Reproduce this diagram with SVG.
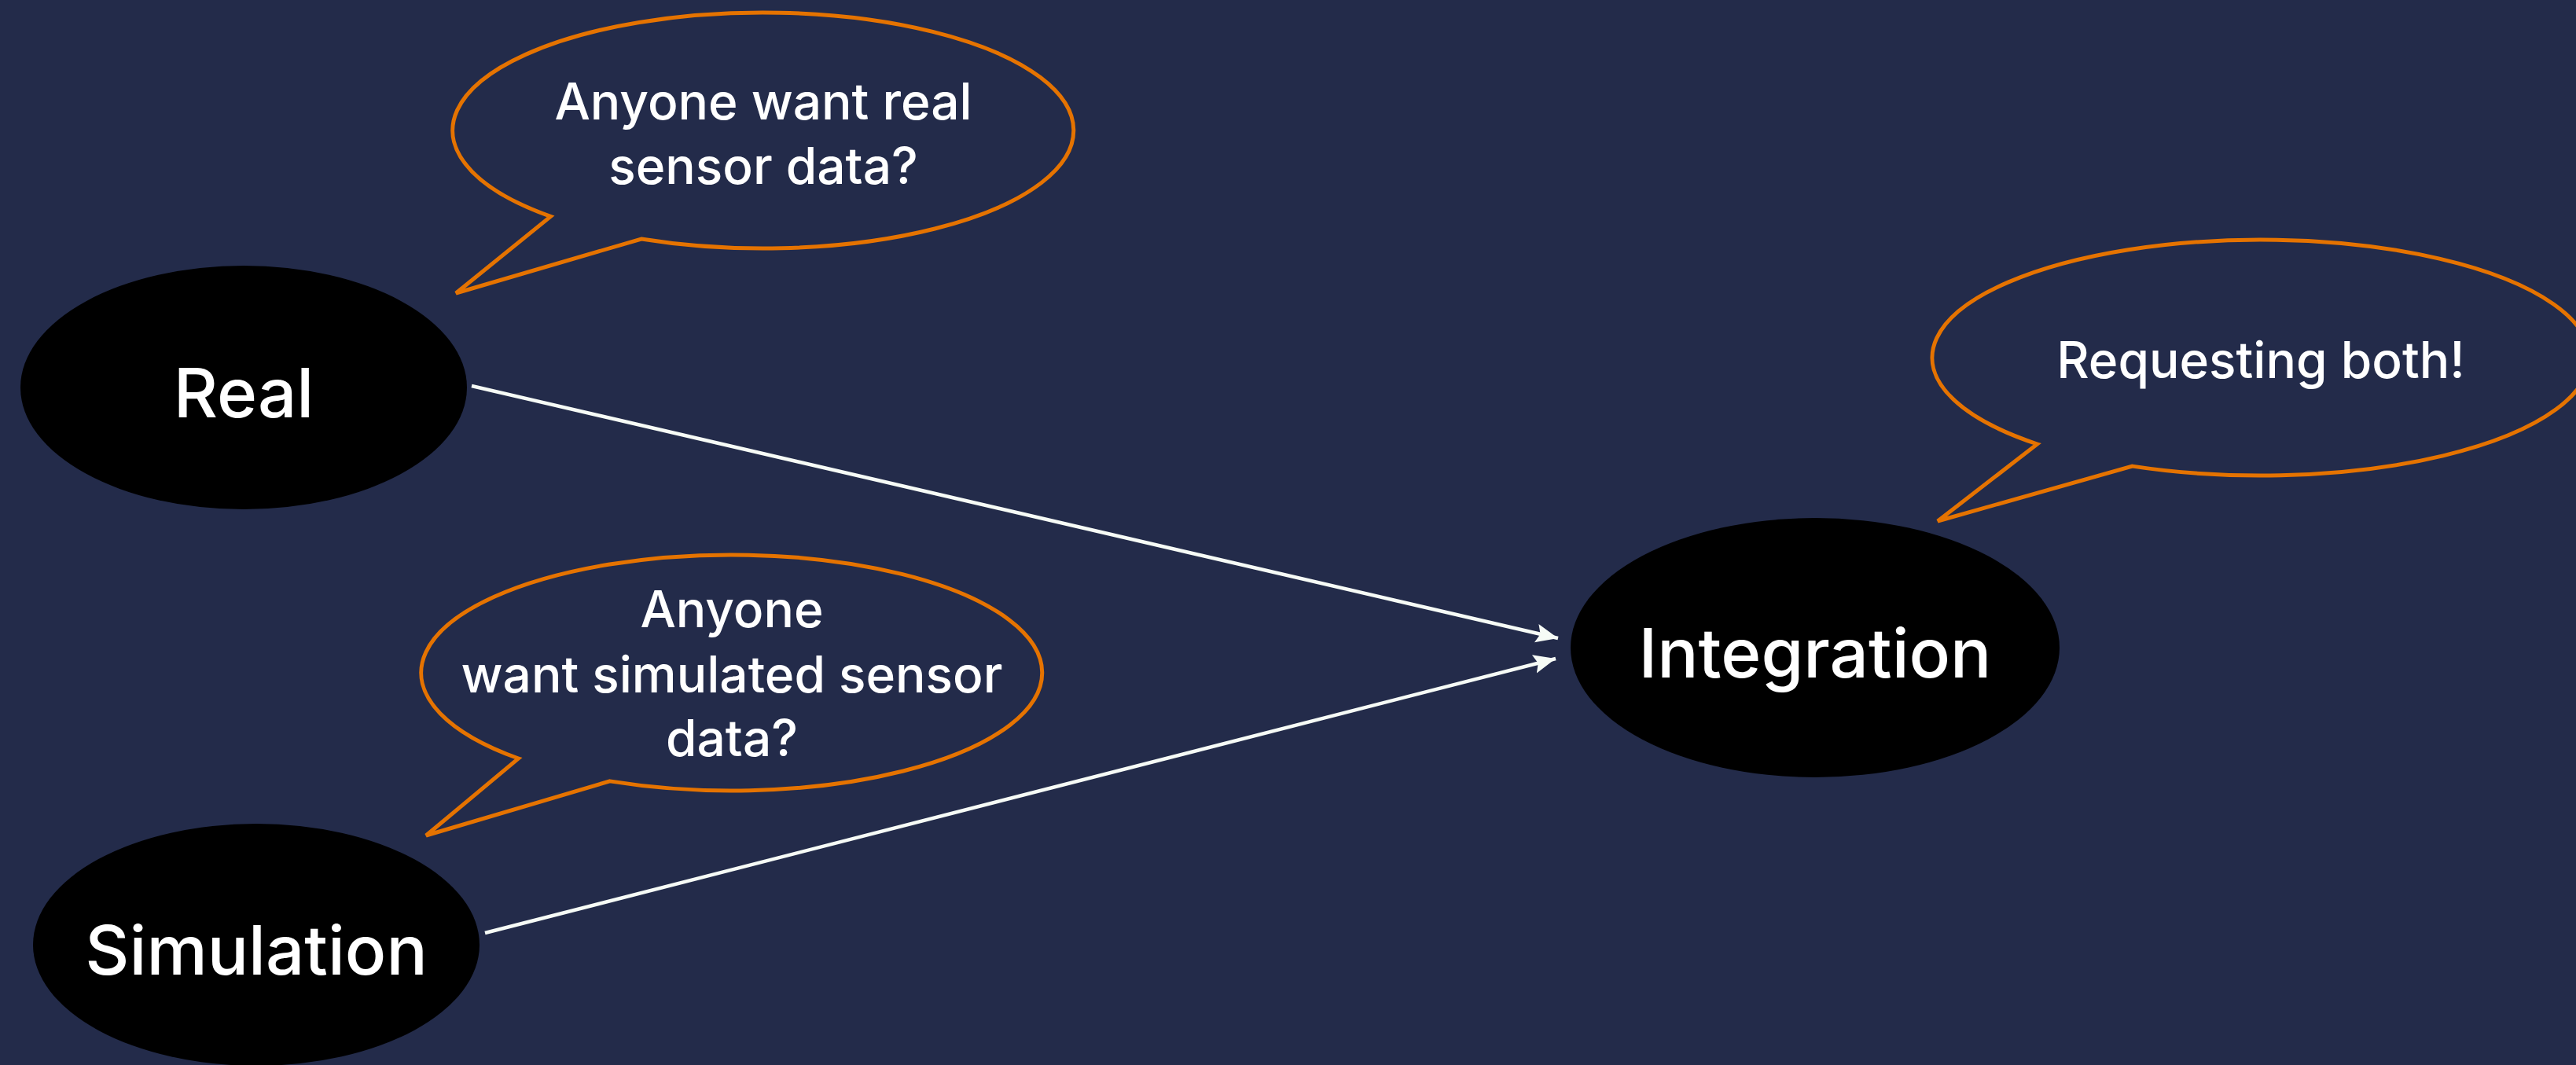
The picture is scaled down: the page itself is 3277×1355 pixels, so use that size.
<svg xmlns="http://www.w3.org/2000/svg" width="3277" height="1355" viewBox="0 0 3277 1355">
  <style>
    .node { fill: #000000; }
    .node-label { fill: #ffffff; font-family: Inter, "Noto Sans", "Liberation Sans", sans-serif; font-size: 87px; font-weight: 500; text-anchor: middle; }
    .bubble { fill: none; stroke: #E57300; stroke-width: 5; stroke-linejoin: miter; }
    .bubble-text { fill: #ffffff; font-family: Inter, "Noto Sans", "Liberation Sans", sans-serif; font-size: 64px; font-weight: 500; text-anchor: middle; }
    .edge { stroke: #F6FBF6; stroke-width: 4.5; fill: none; }
  </style>
  <defs>
    <marker id="arrow" markerUnits="userSpaceOnUse" markerWidth="30" markerHeight="28" refX="28" refY="14" orient="auto">
      <path d="M0,2 L28,14 L0,26 L5,14 Z" fill="#F6FBF6"/>
    </marker>
  </defs>

  <rect width="3277" height="1355" fill="#232B4A"/>

  <!-- connectors -->
  <g id="edges">
    <line class="edge" x1="600" y1="491" x2="1982" y2="812" marker-end="url(#arrow)"/>
    <line class="edge" x1="617" y1="1187" x2="1979" y2="838" marker-end="url(#arrow)"/>
  </g>

  <!-- nodes -->
  <g id="node-real">
    <ellipse class="node" cx="310" cy="493" rx="284" ry="155"/>
    <text class="node-label" x="310" y="531">Real</text>
  </g>

  <g id="node-simulation">
    <ellipse class="node" cx="326" cy="1202" rx="284" ry="154"/>
    <text class="node-label" x="326" y="1240">Simulation</text>
  </g>

  <g id="node-integration">
    <ellipse class="node" cx="2309" cy="824" rx="311" ry="165"/>
    <text class="node-label" x="2309" y="862">Integration</text>
  </g>

  <!-- speech bubbles -->
  <g id="bubble-real">
    <path class="bubble" d="M815.9,304 A395,150 0 1 0 700.5,275.4 L580,373 Z"/>
    <text class="bubble-text" x="971" y="152">Anyone want real</text>
    <text class="bubble-text" x="971" y="234">sensor data?</text>
  </g>

  <g id="bubble-simulation">
    <path class="bubble" d="M775.8,993.9 A395,150 0 1 0 659.6,965 L542,1063 Z"/>
    <text class="bubble-text" x="931" y="798">Anyone</text>
    <text class="bubble-text" x="931" y="881">want simulated sensor</text>
    <text class="bubble-text" x="931" y="962">data?</text>
  </g>

  <g id="bubble-integration">
    <path class="bubble" d="M2712.6,593.1 A418,150 0 1 0 2591.7,565 L2465,663 Z"/>
    <text class="bubble-text" x="2876" y="481">Requesting both!</text>
  </g>
</svg>
